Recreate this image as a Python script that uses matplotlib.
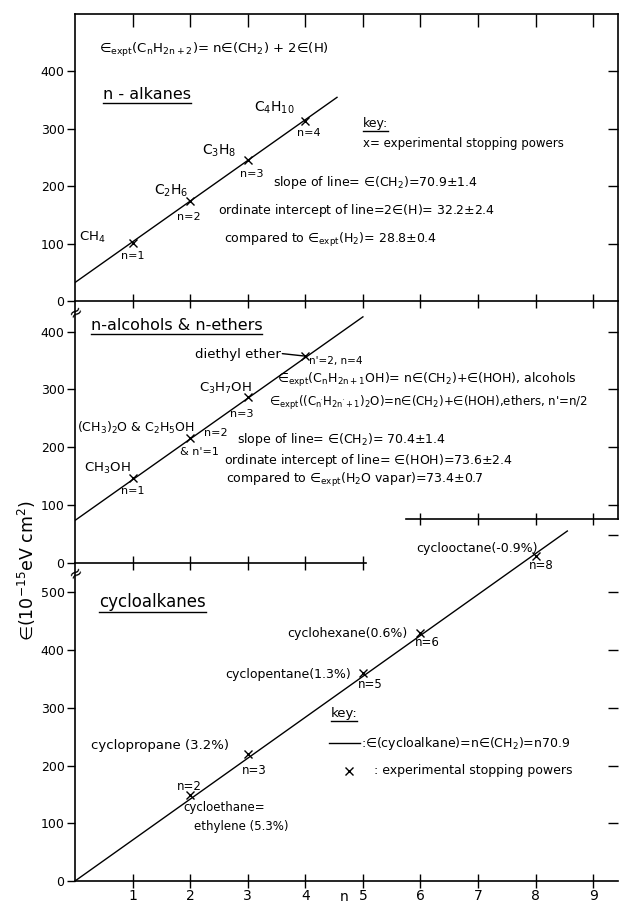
import matplotlib.pyplot as plt
from matplotlib.lines import Line2D
import numpy as np

plt.rcParams['font.family'] = ['DejaVu Sans']
plt.rcParams['mathtext.fontset'] = 'dejavusans'
plt.rcParams['mathtext.default'] = 'regular'

E = '\u2208'  # the curly epsilon used in the figure

# n-alkanes
n_alk = [1, 2, 3, 4]
e_alk = [101, 175, 245, 313]
alk_slope, alk_icpt = 70.9, 32.2
alk_span = [0, 4.55]

# n-alcohols & n-ethers
n_alc = [1, 2, 3, 4]
e_alc = [147, 216, 287, 358]
alc_slope, alc_icpt = 70.4, 73.6
alc_span = [0, 5.0]

# cycloalkanes
n_cyc = [2, 3, 5, 6, 8]
e_cyc = [149, 220, 360, 430, 563]
cyc_slope = 70.9
cyc_span = [0, 8.55]

W, H = 621, 905
XMAX = 9.43
fig = plt.figure(figsize=(W / 100, H / 100), dpi=100)


def box(top_px, bot_px):
    return [75 / W, (H - bot_px) / H, 543 / W, (bot_px - top_px) / H]


ax1 = fig.add_axes(box(14, 301))
ax2 = fig.add_axes(box(301, 563))
ax3 = fig.add_axes(box(519, 881))

for ax in (ax1, ax2, ax3):
    ax.set_facecolor('none')
    ax.set_xlim(0, XMAX)
    ax.spines['top'].set_visible(False)
    ax.spines['right'].set_visible(False)
    for s in ax.spines.values():
        s.set_linewidth(1.2)
    ax.tick_params(axis='y', direction='out', length=6, width=1, pad=1.5, labelsize=9)
    ax.tick_params(axis='x', direction='inout', length=10, width=1, labelbottom=False)

ax1.set_ylim(0, 500)
ax2.set_ylim(0, 453)
ax3.set_ylim(0, 627)

ax1.set_yticks([0, 100, 200, 300, 400])
ax2.set_yticks([0, 100, 200, 300, 400])
ax3.set_yticks([0, 100, 200, 300, 400, 500])

ax1.set_xticks(range(1, 10))
ax2.set_xticks(range(1, 6))
ax2.spines['bottom'].set_bounds(0, 5.06)
ax3.set_xticks(range(1, 10))
ax3.tick_params(axis='x', labelbottom=True, labelsize=10, pad=0.5)
ax3.spines['left'].set_bounds(0, 550)


def right_side(ax, ticks, bounds=None, spine=True):
    sec = ax.secondary_yaxis('right')
    sec.set_yticks(ticks)
    sec.tick_params(direction='in', length=7, width=1, labelright=False)
    sec.spines['right'].set_linewidth(1.2)
    if bounds is not None:
        sec.spines['right'].set_bounds(*bounds)
    sec.spines['right'].set_visible(spine)


def top_side(ax, ticks, bounds=None, direction='in'):
    sec = ax.secondary_xaxis('top')
    sec.set_xticks(ticks)
    sec.tick_params(direction=direction, length=9, width=1, labeltop=False)
    sec.spines['top'].set_linewidth(1.2)
    if bounds is not None:
        sec.spines['top'].set_bounds(*bounds)


right_side(ax1, [100, 200, 300, 400])
top_side(ax1, range(1, 10))
right_side(ax2, [100, 200, 300, 400], bounds=(76, 453))
right_side(ax3, [100, 200, 300, 400, 500, 600], spine=False)
top_side(ax3, [6, 7, 8, 9], bounds=(5.75, XMAX), direction='inout')

# fitted lines and experimental points
xs = np.array(alk_span)
ax1.plot(xs, alk_icpt + alk_slope * xs, color='black', lw=1)
ax1.plot(n_alk, e_alk, 'x', color='black', ms=6, mew=1)

xs = np.array(alc_span)
ax2.plot(xs, alc_icpt + alc_slope * xs, color='black', lw=1)
ax2.plot(n_alc, e_alc, 'x', color='black', ms=6, mew=1)

xs = np.array(cyc_span)
ax3.plot(xs, cyc_slope * xs, color='black', lw=1)
ax3.plot(n_cyc, e_cyc, 'x', color='black', ms=6, mew=1)

fs = 9
under = []

# top panel texts
ax1.text(0.42, 437, E + '$_{expt}$(C$_n$H$_{2n+2}$)= n' + E + '(CH$_2$) + 2' + E + '(H)',
         fontsize=9.5, va='center')
under.append(ax1.text(0.49, 360, 'n - alkanes', fontsize=11.5, va='center'))
ax1.text(0.07, 110, 'CH$_4$', fontsize=9.5, va='center')
ax1.text(1.0, 79, 'n=1', fontsize=8, ha='center', va='center')
ax1.text(1.38, 192, 'C$_2$H$_6$', fontsize=10, va='center')
ax1.text(1.98, 146, 'n=2', fontsize=8, ha='center', va='center')
ax1.text(2.5, 262, 'C$_3$H$_8$', fontsize=10, ha='center', va='center')
ax1.text(3.07, 221, 'n=3', fontsize=8, ha='center', va='center')
ax1.text(3.46, 337, 'C$_4$H$_{10}$', fontsize=10, ha='center', va='center')
ax1.text(4.06, 293, 'n=4', fontsize=8, ha='center', va='center')
under.append(ax1.text(5.0, 309, 'key:', fontsize=9, va='center'))
ax1.text(5.0, 274, 'x= experimental stopping powers', fontsize=8.5, va='center')
ax1.text(3.43, 207, 'slope of line= ' + E + '(CH$_2$)=70.9$\\pm$1.4', fontsize=fs, va='center')
ax1.text(2.48, 157, 'ordinate intercept of line=2' + E + '(H)= 32.2$\\pm$2.4', fontsize=fs, va='center')
ax1.text(2.59, 107, 'compared to ' + E + '$_{expt}$(H$_2$)= 28.8$\\pm$0.4', fontsize=fs, va='center')

# middle panel texts
under.append(ax2.text(0.27, 410, 'n-alcohols & n-ethers', fontsize=11.5, va='center'))
ax2.text(3.58, 360, 'diethyl ether', fontsize=9.5, ha='right', va='center')
ax2.annotate('', xy=(3.97, 358), xytext=(3.6, 362),
             arrowprops=dict(arrowstyle='-', color='black', lw=1, shrinkA=0, shrinkB=0))
ax2.text(4.06, 350, "n'=2, n=4", fontsize=7.5, va='center')
ax2.text(3.51, 317, E + '$_{expt}$(C$_n$H$_{2n+1}$OH)= n' + E + '(CH$_2$)+' + E + '(HOH), alcohols',
         fontsize=fs, va='center')
ax2.text(3.37, 277, E + "$_{expt}$((C$_{n'}$H$_{2n'+1}$)$_2$O)=n" + E + '(CH$_2$)+' + E +
         "(HOH),ethers, n'=n/2", fontsize=8.5, va='center')
ax2.text(2.62, 302, 'C$_3$H$_7$OH', fontsize=9.5, ha='center', va='center')
ax2.text(2.9, 258, 'n=3', fontsize=8, ha='center', va='center')
ax2.text(0.04, 234, '(CH$_3$)$_2$O & C$_2$H$_5$OH', fontsize=9, va='center')
ax2.text(2.24, 224, 'n=2', fontsize=8, va='center')
ax2.text(1.83, 192, "& n'=1", fontsize=8, va='center')
ax2.text(2.81, 213, 'slope of line= ' + E + '(CH$_2$)= 70.4$\\pm$1.4', fontsize=fs, va='center')
ax2.text(2.58, 177, 'ordinate intercept of line= ' + E + '(HOH)=73.6$\\pm$2.4', fontsize=fs, va='center')
ax2.text(2.63, 143, 'compared to ' + E + '$_{expt}$(H$_2$O vapar)=73.4$\\pm$0.7', fontsize=fs, va='center')
ax2.text(0.16, 163, 'CH$_3$OH', fontsize=9.5, va='center')
ax2.text(1.0, 124, 'n=1', fontsize=8, ha='center', va='center')

# bottom panel texts
under.append(ax3.text(0.42, 483, 'cycloalkanes', fontsize=12, va='center'))
ax3.text(5.78, 428, 'cyclohexane(0.6%)', fontsize=fs, ha='right', va='center')
ax3.text(5.9, 413, 'n=6', fontsize=8.5, va='center')
ax3.text(4.8, 358, 'cyclopentane(1.3%)', fontsize=fs, ha='right', va='center')
ax3.text(4.92, 341, 'n=5', fontsize=8.5, va='center')
under.append(ax3.text(4.44, 290, 'key:', fontsize=9.5, va='center'))
ax3.plot([4.41, 4.95], [239, 239], color='black', lw=1)
ax3.text(4.97, 239, ':' + E + '(cycloalkane)=n' + E + '(CH$_2$)=n70.9', fontsize=fs, va='center')
ax3.plot([4.75], [191], 'x', color='black', ms=6, mew=1)
ax3.text(5.2, 191, ': experimental stopping powers', fontsize=fs, va='center')
ax3.text(0.28, 235, 'cyclopropane (3.2%)', fontsize=9.5, va='center')
ax3.text(2.9, 192, 'n=3', fontsize=8.5, va='center')
ax3.text(1.77, 164, 'n=2', fontsize=8.5, va='center')
ax3.text(1.88, 127, 'cycloethane=', fontsize=8.5, va='center')
ax3.text(2.07, 95, 'ethylene (5.3%)', fontsize=8.5, va='center')
ax3.text(8.04, 576, 'cyclooctane(-0.9%)', fontsize=fs, ha='right', va='center')
ax3.text(7.88, 546, 'n=8', fontsize=8.5, va='center')

# axis labels
fig.text(27 / W, 1 - 571 / H, E + '(10$^{-15}$eV cm$^2$)', fontsize=12.5,
         rotation=90, ha='center', va='center')
fig.text((75 + 4.68 * 57.6) / W, 0.001, 'n', fontsize=10, ha='center', va='bottom')

# axis break marks on the left spine
for yb in (312, 573):
    fig.text(75 / W, 1 - yb / H, '\u2248', fontsize=12, rotation=35,
             ha='center', va='center')

# underlines
fig.canvas.draw()
r = fig.canvas.get_renderer()
for t in under:
    bb = t.get_window_extent(r)
    y = (bb.y0 - 1) / fig.bbox.height
    fig.add_artist(Line2D([bb.x0 / fig.bbox.width, bb.x1 / fig.bbox.width], [y, y],
                          color='black', lw=1))

fig.savefig('out.png', dpi=100)
